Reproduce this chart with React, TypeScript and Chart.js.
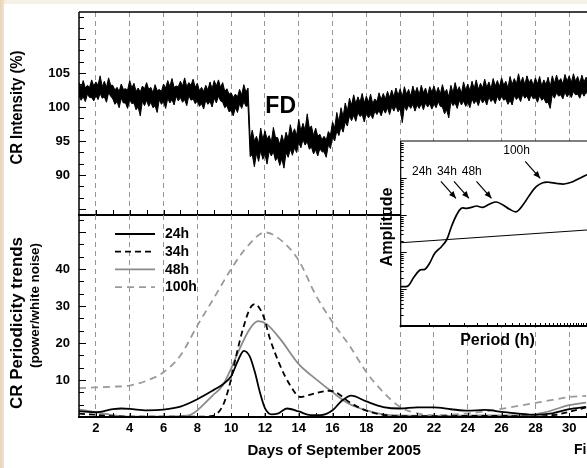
import React, { useEffect, useRef } from "react";
import { Chart, registerables } from "chart.js";

Chart.register(...registerables);

const FONT = "'Liberation Sans', Arial, Helvetica, sans-serif";

// ---------------- DATA ----------------
// CR intensity (%) : 3-hourly upper / lower envelope of the hourly record, from day 1
const crStartDay = 1;
const crSamplesPerDay = 8;
const crHigh = [
  103.6, 102.9, 103.9, 102.8, 103.2, 102.9, 104.0, 103.1,
  103.7, 103.2, 104.6, 103.0, 103.8, 102.9, 104.3, 103.2,
  103.2, 102.5, 102.9, 102.3, 103.4, 102.6, 102.7, 102.5,
  103.9, 102.8, 103.5, 102.3, 102.8, 102.2, 103.1, 102.7,
  103.6, 102.6, 102.9, 102.1, 103.3, 102.4, 102.6, 102.3,
  103.4, 102.8, 103.9, 103.0, 104.2, 102.9, 103.1, 103.0,
  103.8, 103.1, 104.3, 103.0, 103.6, 103.2, 104.1, 102.9,
  103.5, 102.4, 102.9, 102.3, 103.2, 102.5, 103.7, 102.7,
  103.9, 103.1, 104.0, 102.9, 103.6, 102.3, 102.7, 101.9,
  102.1, 101.4, 101.9, 101.5, 102.6, 101.8, 103.3, 102.2,
  102.8, 95.3, 96.6, 95.0, 95.7, 94.6, 96.9, 95.2,
  96.5, 95.3, 95.8, 94.8, 97.0, 95.5, 95.5, 94.5,
  95.9, 94.8, 96.3, 95.3, 97.4, 96.0, 96.8, 95.8,
  98.2, 96.5, 97.6, 96.6, 99.0, 96.9, 97.2, 95.8,
  96.9, 95.7, 96.0, 95.2, 95.7, 95.1, 96.4, 95.9,
  97.8, 96.9, 99.2, 97.8, 99.9, 98.6, 100.6, 99.4,
  101.3, 100.3, 101.8, 100.5, 101.5, 100.7, 102.0, 100.6,
  101.6, 100.7, 101.9, 100.5, 101.2, 100.8, 102.1, 101.1,
  102.0, 101.2, 102.3, 101.4, 102.5, 101.5, 102.8, 101.7,
  102.7, 101.5, 103.0, 101.9, 102.6, 101.6, 103.1, 102.0,
  102.9, 101.8, 103.2, 102.1, 102.8, 101.7, 103.0, 102.2,
  103.1, 102.0, 102.9, 101.9, 103.3, 102.1, 102.6, 101.5,
  103.2, 102.1, 103.6, 102.4, 103.0, 102.0, 103.7, 102.5,
  103.4, 102.4, 103.8, 102.7, 104.0, 102.6, 103.5, 102.8,
  104.1, 102.9, 103.7, 102.7, 104.2, 103.1, 103.9, 103.0,
  104.3, 103.2, 103.8, 102.8, 104.5, 103.3, 104.2, 103.4,
  104.9, 103.5, 104.4, 103.3, 104.6, 103.6, 104.1, 103.2,
  104.3, 103.4, 104.5, 103.1, 104.0, 103.3, 104.4, 103.0,
  104.6, 103.5, 104.7, 103.7, 104.2, 103.4, 104.8, 103.8,
  104.6, 103.6, 104.9, 103.8, 104.5, 103.5, 104.7, 103.7,
  104.4, 103.6,
];
const crLow = [
  101.6, 101.0, 101.5, 100.8, 101.9, 101.4, 101.4, 100.9,
  101.7, 101.1, 102.0, 101.3, 101.5, 100.7, 102.1, 101.6,
  101.2, 100.4, 100.8, 99.9, 101.3, 100.6, 100.6, 99.8,
  101.1, 100.5, 100.6, 99.6, 100.0, 98.7, 100.9, 100.2,
  101.0, 100.1, 100.7, 99.9, 100.2, 99.2, 101.1, 100.4,
  100.8, 99.8, 101.3, 100.6, 101.1, 100.3, 101.6, 100.9,
  101.4, 100.7, 101.1, 100.2, 101.7, 101.0, 101.2, 100.5,
  100.9, 100.1, 100.5, 99.7, 101.0, 100.4, 100.8, 100.0,
  101.3, 100.6, 101.6, 100.9, 100.7, 99.9, 100.2, 99.3,
  99.5, 98.7, 99.9, 99.2, 100.5, 99.8, 100.8, 100.1,
  100.2, 92.7, 93.0, 91.2, 93.2, 92.0, 93.6, 92.3,
  93.1, 91.6, 93.5, 92.8, 93.4, 92.1, 92.6, 91.4,
  92.4, 91.0, 93.3, 92.6, 93.8, 92.9, 94.0, 93.3,
  94.8, 94.0, 95.2, 94.4, 94.9, 93.8, 94.1, 93.1,
  93.7, 92.8, 93.9, 93.4, 93.4, 92.6, 94.4, 93.9,
  95.6, 95.0, 96.5, 95.8, 97.1, 96.3, 97.8, 97.2,
  98.7, 98.0, 98.8, 97.9, 99.2, 98.6, 98.9, 97.8,
  99.1, 98.4, 98.9, 98.3, 99.4, 98.9, 99.5, 98.7,
  99.7, 99.1, 99.9, 98.9, 100.1, 99.4, 100.2, 99.3,
  99.8, 97.7, 100.2, 99.5, 100.3, 99.8, 100.4, 99.4,
  100.3, 99.8, 100.5, 99.6, 100.6, 100.0, 100.5, 99.7,
  100.5, 99.9, 100.8, 100.1, 100.0, 99.0, 99.6, 98.4,
  100.8, 100.2, 100.6, 99.8, 101.0, 100.3, 100.9, 100.1,
  100.7, 99.9, 101.2, 100.5, 101.0, 100.2, 101.3, 100.6,
  101.1, 100.3, 101.5, 100.8, 101.2, 100.5, 101.6, 100.9,
  101.6, 101.0, 101.2, 100.4, 101.0, 100.3, 101.7, 101.1,
  101.5, 100.8, 101.9, 101.3, 101.6, 100.9, 101.8, 101.2,
  101.4, 100.7, 101.7, 101.0, 101.3, 100.6, 100.7, 99.8,
  101.9, 101.3, 102.1, 101.6, 101.8, 101.2, 102.2, 101.5,
  102.0, 101.4, 102.3, 101.8, 101.9, 101.3, 102.2, 101.6,
  102.2, 101.7,
];

// Periodicity trends (power / white noise)
const p24Days = [1, 2, 3, 3.5, 4, 5, 6, 7, 8, 9, 9.5, 10, 10.4, 10.75, 11.1, 11.4, 11.7, 12, 12.4, 12.8, 13.3, 14, 14.7, 15.3, 16, 16.5, 17.1, 18, 19, 20, 21, 22, 23, 24, 25, 26, 27, 28, 29, 30, 31];
const p24 = [1.6, 1.3, 2.1, 2.3, 2.2, 1.8, 2.0, 2.8, 4.8, 7.4, 8.8, 11.0, 15.2, 17.9, 16.4, 12.2, 6.7, 2.4, 0.7, 1.0, 2.3, 1.5, 0.5, 0.5, 1.8, 4.2, 5.8, 4.2, 2.7, 2.3, 2.6, 2.6, 2.1, 1.7, 1.9, 1.4, 0.9, 0.6, 1.0, 2.1, 2.7];

const p34Days = [1, 2, 3, 4, 6, 8, 8.9, 9.5, 9.9, 10.3, 10.7, 11.1, 11.4, 11.9, 12.3, 12.9, 13.5, 14.1, 14.8, 15.8, 16.2, 17, 18, 19, 20, 22, 24, 26, 28, 29.2, 30, 31];
const p34 = [0.9, 0.6, 0.2, 0.1, 0.1, 0.1, 0.3, 3.0, 8.5, 16.6, 23.8, 29.2, 30.5, 27.4, 21.1, 13.9, 8.5, 5.4, 6.2, 7.1, 6.7, 4.0, 1.7, 0.6, 0.2, 0.2, 0.3, 0.3, 0.1, 0.6, 1.4, 2.6];

const p48Days = [1, 2, 3, 4, 5, 6, 7, 7.6, 8, 8.9, 9.5, 9.9, 10.5, 11.1, 11.6, 12.1, 12.9, 14, 15, 16, 17, 18, 19, 20, 22, 25, 27, 28.5, 30, 31];
const p48 = [2.0, 1.3, 0.5, 0.1, 0.1, 0.1, 0.2, 0.6, 1.8, 5.8, 8.5, 12.1, 18.4, 23.8, 25.9, 25.1, 21.1, 14.3, 10.3, 6.7, 3.5, 1.8, 0.7, 0.4, 0.3, 0.4, 0.4, 1.2, 3.2, 3.9];

const p100Days = [1, 2, 3, 4, 5, 6, 7, 8, 9, 10, 11, 12, 13, 14, 15, 16, 17, 18, 19, 20, 21, 22, 23, 24, 25, 26, 27, 28, 29, 30, 31];
const p100 = [7.8, 8.0, 8.2, 8.5, 9.8, 12.1, 16.6, 24.7, 32.3, 40.0, 46.3, 49.9, 47.6, 42.3, 33.0, 25.6, 19.3, 12.1, 6.7, 2.7, 1.0, 0.5, 0.6, 1.0, 1.5, 2.2, 3.0, 3.8, 4.6, 5.4, 5.7];

const seriesLabels = ["24h", "34h", "48h", "100h"];

// Axis tick labels
const topYTickLabels = [90, 95, 100, 105];
const bottomYTickLabels = [10, 20, 30, 40];
const xTickLabels = [2, 4, 6, 8, 10, 12, 14, 16, 18, 20, 22, 24, 26, 28, 30];

// FD annotation (day, %)
const fdDay = 12.93;
const fdLevel = 100.0;

// Inset spectrum: period (h) vs amplitude
const specPeriod = [10, 11.1, 12.0, 13.2, 14.2, 15.2, 16.4, 18.0, 19.4, 20.8, 22.4, 24.0, 25.9, 27.8, 29.9, 32.8, 36.2, 39.8, 43.8, 48.2, 53.1, 58.4, 64.4, 70.8, 77.9, 85.8, 94.4, 106, 120, 135, 146, 176];
const specAmp = [11.5, 12.1, 19.8, 32.6, 34.1, 50.4, 94, 139, 211, 483, 1000, 1518, 1518, 1614, 1750, 1614, 1983, 2245, 1862, 1426, 1228, 1862, 3473, 5820, 7464, 7650, 7190, 6885, 7943, 10190, 12050, 15460];
const noisePeriod = [10, 203];
const noiseAmp = [178, 432];

const peakLabels = ["24h", "34h", "48h", "100h"];
const peakLabelPeriod = [13.6, 19.5, 27.9, 53.3];
const peakLabelAmp = [14800, 14800, 14800, 53700];
const peakTipPeriod = [22.2, 26.8, 37.1, 75.0];
const peakTipAmp = [2827, 2827, 2827, 9817];

// ---------------- HELPERS ----------------
function line(ctx: CanvasRenderingContext2D, x1: number, y1: number, x2: number, y2: number) {
  ctx.beginPath();
  ctx.moveTo(x1, y1);
  ctx.lineTo(x2, y2);
  ctx.stroke();
}

function drawRotated(ctx: CanvasRenderingContext2D, text: string, cx: number, cy: number, size: number, length: number) {
  ctx.save();
  ctx.font = `bold ${size}px ${FONT}`;
  const w = ctx.measureText(text).width;
  ctx.translate(cx, cy);
  ctx.rotate(-Math.PI / 2);
  ctx.scale(length / w, 1);
  ctx.textAlign = "center";
  ctx.textBaseline = "middle";
  ctx.fillStyle = "#000";
  ctx.fillText(text, 0, 0);
  ctx.restore();
}

// Nudge layout padding so the plot area lands on the wanted rectangle
function fitArea(chart: any, t: { left: number; top: number; right: number; bottom: number }) {
  for (let i = 0; i < 3; i++) {
    const a = chart.chartArea;
    const p = chart.options.layout.padding;
    p.top += t.top - a.top;
    p.bottom += a.bottom - t.bottom;
    p.left += t.left - a.left;
    p.right += a.right - t.right;
    chart.update();
  }
  return chart;
}

const zeroPad = (s: any) => {
  s.paddingTop = 0;
  s.paddingBottom = 0;
  s.paddingLeft = 0;
  s.paddingRight = 0;
};

const tickFont = { family: FONT, size: 13, weight: "bold" as const };
const gridGray = "#959595";

function xyPoints(xs: number[], ys: number[]) {
  return xs.map((x, i) => ({ x, y: ys[i] }));
}

// ---------------- CHARTS ----------------
function makeTop(canvas: HTMLCanvasElement) {
  const decor = {
    id: "topDecor",
    afterDraw(chart: any) {
      const { ctx, chartArea: a, scales } = chart;
      const x = scales.x, y = scales.y;
      ctx.save();
      ctx.strokeStyle = "#000";
      ctx.lineWidth = 1;
      const step = 5 / 3;
      for (let k = 0; ; k++) {
        const v = 85 + k * step;
        if (v > y.max) break;
        const py = Math.round(y.getPixelForValue(v)) + 0.5;
        const major = Math.abs(v / 5 - Math.round(v / 5)) < 1e-6;
        line(ctx, a.left, py, a.left + (major ? 7 : 5), py);
      }
      for (let d = 2; d <= 31; d++) {
        const px = Math.round(x.getPixelForValue(d)) + 0.5;
        line(ctx, px, a.bottom, px, a.bottom - 5);
      }
      ctx.lineWidth = 1.5;
      line(ctx, a.left, a.top, a.right + 5, a.top);
      line(ctx, a.left, a.top, a.left, a.bottom);
      ctx.lineWidth = 2;
      line(ctx, a.left - 1, a.bottom, a.right + 5, a.bottom);
      ctx.fillStyle = "#000";
      ctx.font = `bold 23px ${FONT}`;
      ctx.textAlign = "center";
      ctx.textBaseline = "middle";
      ctx.fillText("FD", x.getPixelForValue(fdDay), y.getPixelForValue(fdLevel));
      drawRotated(ctx, "CR Intensity (%)", 17.5, 107.5, 16.5, 114);
      ctx.restore();
    },
  };
  const xs = (n: number) => crStartDay + n / crSamplesPerDay;
  const chart = new Chart(canvas, {
    type: "line",
    data: {
      datasets: [
        {
          data: crHigh.map((v, i) => ({ x: xs(i), y: v })),
          borderColor: "#000",
          backgroundColor: "#000",
          borderWidth: 1,
          pointRadius: 0,
          tension: 0,
          fill: "+1",
        },
        {
          data: crLow.map((v, i) => ({ x: xs(i), y: v })),
          borderColor: "#000",
          borderWidth: 1,
          pointRadius: 0,
          tension: 0,
          fill: false,
        },
      ],
    },
    options: {
      responsive: false,
      animation: false,
      devicePixelRatio: 1,
      layout: { padding: { left: 0, top: 12, right: 10.5, bottom: 1 } },
      plugins: { legend: { display: false }, tooltip: { enabled: false } },
      scales: {
        x: {
          type: "linear",
          min: 1,
          max: 31.2,
          afterFit: (s: any) => { s.height = 0; zeroPad(s); },
          ticks: { display: false, stepSize: 1, maxTicksLimit: 100 },
          grid: {
            color: (c: any) => (c.tick && c.tick.value % 2 === 0 ? gridGray : "rgba(0,0,0,0)"),
            lineWidth: 1,
            drawTicks: false,
          },
          border: { display: false, dash: [5, 4] },
        },
        y: {
          min: 84.1,
          max: 114,
          afterFit: (s: any) => { s.width = 79; zeroPad(s); },
          ticks: {
            stepSize: 5,
            padding: 9,
            color: "#000",
            font: tickFont,
            callback: (v: any) => (topYTickLabels.includes(Number(v)) ? String(v) : ""),
          },
          grid: { display: false, drawTicks: false },
          border: { display: false },
        },
      },
    } as any,
    plugins: [decor],
  });
  return fitArea(chart, { left: 79, top: 12, right: 589.5, bottom: 215 });
}

function makeBottom(canvas: HTMLCanvasElement) {
  const decor = {
    id: "bottomDecor",
    afterDraw(chart: any) {
      const { ctx, chartArea: a, scales } = chart;
      const x = scales.x, y = scales.y;
      ctx.save();
      ctx.strokeStyle = "#000";
      ctx.lineWidth = 1;
      const step = 10 / 3;
      for (let k = 1; ; k++) {
        const v = k * step;
        if (v > y.max) break;
        const py = Math.round(y.getPixelForValue(v)) + 0.5;
        const major = Math.abs(v / 10 - Math.round(v / 10)) < 1e-6;
        line(ctx, a.left, py, a.left + (major ? 7 : 5), py);
      }
      for (let d = 2; d <= 31; d++) {
        const px = Math.round(x.getPixelForValue(d)) + 0.5;
        line(ctx, px, a.bottom, px, a.bottom - 4);
      }
      ctx.lineWidth = 1.5;
      line(ctx, a.left, a.top, a.left, a.bottom);
      ctx.lineWidth = 2;
      line(ctx, a.left - 1, a.bottom, a.right + 5, a.bottom);

      // legend
      ctx.font = `bold 14px ${FONT}`;
      ctx.textAlign = "left";
      ctx.textBaseline = "middle";
      ctx.fillStyle = "#000";
      chart.data.datasets.forEach((ds: any, i: number) => {
        const yy = a.top + 19 + i * 17.7;
        ctx.strokeStyle = ds.borderColor;
        ctx.lineWidth = ds.borderWidth;
        ctx.setLineDash(ds.borderDash || []);
        line(ctx, a.left + 36, yy, a.left + 76, yy);
        ctx.setLineDash([]);
        ctx.fillText(ds.label, a.left + 86, yy + 0.5);
      });

      drawRotated(ctx, "CR Periodicity trends", 17.5, 109, 16, 172);
      drawRotated(ctx, "(power/white noise)", 35, 91.5, 13, 125);

      ctx.fillStyle = "#000";
      ctx.font = `bold 15px ${FONT}`;
      ctx.textAlign = "center";
      ctx.textBaseline = "middle";
      ctx.fillText("Days of September 2005", (a.left + a.right) / 2, 237);
      ctx.textAlign = "left";
      ctx.font = `bold 14px ${FONT}`;
      ctx.fillText("Fig. 3", 574, 236);
      ctx.restore();
    },
  };
  const common = { pointRadius: 0, borderWidth: 1.8, cubicInterpolationMode: "monotone" as const, fill: false };
  const chart = new Chart(canvas, {
    type: "line",
    data: {
      datasets: [
        { label: seriesLabels[0], data: xyPoints(p24Days, p24), borderColor: "#000", ...common },
        { label: seriesLabels[1], data: xyPoints(p34Days, p34), borderColor: "#000", borderDash: [6, 4], ...common },
        { label: seriesLabels[2], data: xyPoints(p48Days, p48), borderColor: "#8a8a8a", ...common },
        { label: seriesLabels[3], data: xyPoints(p100Days, p100), borderColor: "#9a9a9a", borderDash: [7, 5], ...common },
      ],
    },
    options: {
      responsive: false,
      animation: false,
      devicePixelRatio: 1,
      layout: { padding: { left: 0, top: 1, right: 10.5, bottom: 0 } },
      plugins: { legend: { display: false }, tooltip: { enabled: false } },
      scales: {
        x: {
          type: "linear",
          min: 1,
          max: 31.2,
          afterFit: (s: any) => { s.height = 51; zeroPad(s); },
          ticks: {
            stepSize: 1,
            maxTicksLimit: 100,
            autoSkip: false,
            maxRotation: 0,
            padding: 4,
            color: "#000",
            font: tickFont,
            callback: (v: any) => (xTickLabels.includes(Number(v)) ? String(v) : ""),
          },
          grid: {
            color: (c: any) => (c.tick && c.tick.value % 2 === 0 ? gridGray : "rgba(0,0,0,0)"),
            lineWidth: 1,
            drawTicks: false,
          },
          border: { display: false, dash: [5, 4] },
        },
        y: {
          min: 0,
          max: 54.6,
          afterFit: (s: any) => { s.width = 79; zeroPad(s); },
          ticks: {
            stepSize: 10,
            padding: 9,
            color: "#000",
            font: tickFont,
            callback: (v: any) => (bottomYTickLabels.includes(Number(v)) ? String(v) : ""),
          },
          grid: { display: false, drawTicks: false },
          border: { display: false },
        },
      },
    } as any,
    plugins: [decor],
  });
  // canvas sits at page y = 214
  return fitArea(chart, { left: 79, top: 1, right: 589.5, bottom: 203 });
}

function makeInset(canvas: HTMLCanvasElement) {
  const decor = {
    id: "insetDecor",
    beforeDraw(chart: any) {
      const { ctx, chartArea: a } = chart;
      ctx.save();
      ctx.fillStyle = "#fff";
      ctx.fillRect(a.left, a.top, chart.width - a.left, a.bottom - a.top);
      ctx.restore();
    },
    afterDraw(chart: any) {
      const { ctx, chartArea: a, scales } = chart;
      const x = scales.x, y = scales.y;
      ctx.save();
      ctx.strokeStyle = "#000";
      ctx.lineWidth = 1;
      for (let n = 0; n <= 4; n++) {
        for (let k = 1; k <= 9; k++) {
          const v = k * Math.pow(10, n);
          if (v <= 1) continue;
          const py = Math.round(y.getPixelForValue(v)) + 0.5;
          line(ctx, a.left, py, a.left + (k === 1 ? 6 : 3), py);
        }
      }
      for (let p = 15; p <= 200; p += 5) {
        const px = Math.round(x.getPixelForValue(p)) + 0.5;
        line(ctx, px, a.bottom, px, a.bottom - 3);
      }
      ctx.lineWidth = 1.2;
      line(ctx, a.left, a.top, chart.width, a.top);
      line(ctx, a.left, a.top, a.left, a.bottom);
      ctx.lineWidth = 2;
      line(ctx, a.left - 1, a.bottom, chart.width, a.bottom);

      ctx.fillStyle = "#000";
      ctx.font = `12px ${FONT}`;
      ctx.textAlign = "center";
      ctx.textBaseline = "middle";
      peakLabels.forEach((lab, i) => {
        ctx.fillText(lab, x.getPixelForValue(peakLabelPeriod[i]), y.getPixelForValue(peakLabelAmp[i]));
        const tx = x.getPixelForValue(peakTipPeriod[i]);
        const ty = y.getPixelForValue(peakTipAmp[i]);
        const sx = tx - 15, sy = ty - 17;
        ctx.lineWidth = 1.2;
        line(ctx, sx, sy, tx, ty);
        const ang = Math.atan2(ty - sy, tx - sx);
        const L = 7, W = 3;
        ctx.beginPath();
        ctx.moveTo(tx, ty);
        ctx.lineTo(tx - L * Math.cos(ang) + W * Math.sin(ang), ty - L * Math.sin(ang) - W * Math.cos(ang));
        ctx.lineTo(tx - L * Math.cos(ang) - W * Math.sin(ang), ty - L * Math.sin(ang) + W * Math.cos(ang));
        ctx.closePath();
        ctx.fill();
      });

      drawRotated(ctx, "Amplitude", 17.5, 102, 16, 79);
      ctx.font = `bold 16px ${FONT}`;
      ctx.textAlign = "center";
      ctx.textBaseline = "middle";
      ctx.fillText("Period (h)", 127.5, 216);
      ctx.restore();
    },
  };
  const chart = new Chart(canvas, {
    type: "line",
    data: {
      datasets: [
        { data: xyPoints(specPeriod, specAmp), borderColor: "#000", borderWidth: 1.7, pointRadius: 0, tension: 0.35 },
        { data: xyPoints(noisePeriod, noiseAmp), borderColor: "#000", borderWidth: 1, pointRadius: 0, tension: 0 },
      ],
    },
    options: {
      responsive: false,
      animation: false,
      devicePixelRatio: 1,
      layout: { padding: { left: 30.7, top: 16, right: 0, bottom: 31 } },
      plugins: { legend: { display: false }, tooltip: { enabled: false } },
      scales: {
        x: {
          type: "logarithmic",
          min: 10,
          max: 203,
          afterFit: (s: any) => { s.height = 0; zeroPad(s); },
          ticks: { display: false },
          grid: { display: false, drawTicks: false },
          border: { display: false },
        },
        y: {
          type: "logarithmic",
          min: 1,
          max: 100000,
          afterFit: (s: any) => { s.width = 0; zeroPad(s); },
          ticks: { display: false },
          grid: { display: false, drawTicks: false },
          border: { display: false },
        },
      },
    } as any,
    plugins: [decor],
  });
  return fitArea(chart, { left: 30.7, top: 16, right: 240, bottom: 201 });
}

export default function App() {
  const topRef = useRef<HTMLCanvasElement>(null);
  const botRef = useRef<HTMLCanvasElement>(null);
  const insRef = useRef<HTMLCanvasElement>(null);
  useEffect(() => {
    const charts = [makeTop(topRef.current!), makeBottom(botRef.current!), makeInset(insRef.current!)];
    return () => charts.forEach((c) => c.destroy());
  }, []);
  return (
    <div style={{ position: "fixed", left: 0, top: 0, width: 587, height: 468, overflow: "hidden", background: "#f6f1e7" }}>
      <div style={{ position: "absolute", left: 0, top: 0, width: 5, height: 468, background: "linear-gradient(to right, #e8d3b6, #f3e8d8)" }} />
      <div style={{ position: "absolute", left: 4, top: 4, right: 0, bottom: 0, background: "#fff" }} />
      <canvas ref={topRef} width={600} height={216} style={{ position: "absolute", left: 0, top: 0 }} />
      <canvas ref={botRef} width={600} height={254} style={{ position: "absolute", left: 0, top: 214 }} />
      <canvas ref={insRef} width={240} height={232} style={{ position: "absolute", left: 370, top: 125 }} />
    </div>
  );
}
